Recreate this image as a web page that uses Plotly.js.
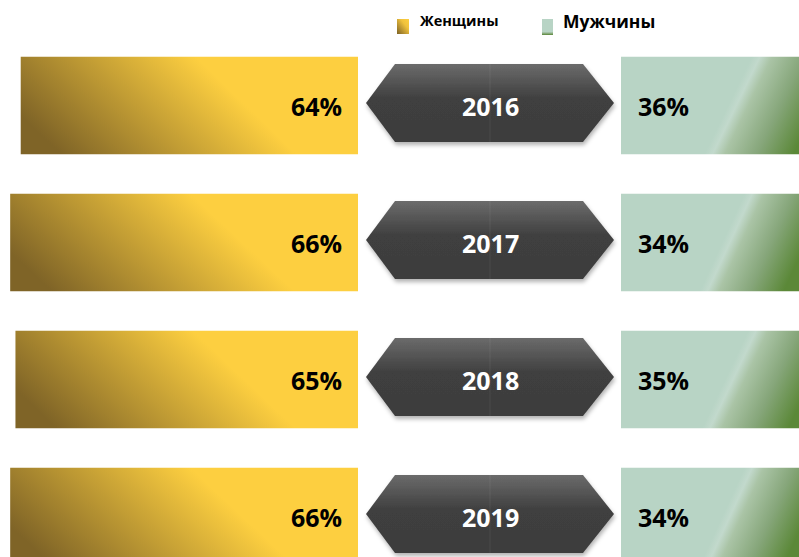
<!DOCTYPE html>
<html>
<head>
<meta charset="utf-8">
<script src="https://cdn.plot.ly/plotly-3.0.1.min.js"></script>
<style>html,body{margin:0;padding:0;background:#fff;}#chart{width:799px;height:557px;}</style>
</head>
<body>
<div id="chart"></div>
<script>
const years = ['2016', '2017', '2018', '2019'];
const women = [64, 66, 65, 66];
const men = [36, 34, 35, 34];
const legendNames = ['Женщины', 'Мужчины'];

const W = 799, H = 557;
const idx = years.map((_, i) => i);
const FONT = 'Open Sans, Noto Sans, DejaVu Sans, sans-serif';

const traces = [
  {type: 'bar', orientation: 'h', y: idx, x: women, xaxis: 'x', yaxis: 'y', width: 0.712,
   marker: {color: '#FDCF40', line: {width: 0}}, hoverinfo: 'none', showlegend: false, name: legendNames[0]},
  {type: 'bar', orientation: 'h', y: idx, x: men, xaxis: 'x2', yaxis: 'y', width: 0.712,
   marker: {color: '#B8D4C5', line: {width: 0}}, hoverinfo: 'none', showlegend: false, name: legendNames[1]}
];

// hexagon geometry (paper x, y offsets in axis units relative to category index)
const hx = [366 / W, 395 / W, 583 / W, 614 / W];
const hcx = 490 / W;
const shapes = [];
const annotations = [];
idx.forEach(i => {
  const yc = i - 0.018, yt = i - 0.303, yb = i + 0.266;
  shapes.push({type: 'path', xref: 'paper', yref: 'y', layer: 'above',
    path: `M ${hx[0]},${yc} L ${hx[1]},${yt} L ${hx[2]},${yt} L ${hx[3]},${yc} L ${hx[2]},${yb} L ${hx[1]},${yb} Z`,
    fillcolor: '#3f3f3f', line: {width: 0}});
});
idx.forEach(i => {
  shapes.push({type: 'line', xref: 'paper', yref: 'y', layer: 'above',
    x0: hcx, x1: hcx, y0: i - 0.303, y1: i + 0.266, line: {color: 'rgba(255,255,255,0.07)', width: 1}});
});
// legend swatches
shapes.push({type: 'rect', xref: 'paper', yref: 'paper', x0: 397 / W, x1: 409 / W, y0: 1 - 34 / H, y1: 1 - 19 / H,
  fillcolor: '#FDCF40', line: {width: 0}});
shapes.push({type: 'rect', xref: 'paper', yref: 'paper', x0: 542 / W, x1: 553 / W, y0: 1 - 35 / H, y1: 1 - 19 / H,
  fillcolor: '#B8D4C5', line: {width: 0}});

idx.forEach(i => {
  annotations.push({xref: 'x', yref: 'y', x: 0, y: i, xanchor: 'right', yanchor: 'middle', xshift: -14,
    text: women[i] + '%', showarrow: false, font: {family: FONT, size: 25, color: '#000', weight: 'bold'}});
  annotations.push({xref: 'x2', yref: 'y', x: 0, y: i, xanchor: 'left', yanchor: 'middle', xshift: 15,
    text: men[i] + '%', showarrow: false, font: {family: FONT, size: 25, color: '#000', weight: 'bold'}});
  annotations.push({xref: 'paper', yref: 'y', x: hcx, y: i, xanchor: 'center', yanchor: 'middle',
    text: years[i], showarrow: false, font: {family: FONT, size: 25, color: '#fff', weight: 'bold'}});
});
annotations.push({xref: 'paper', yref: 'paper', x: 418 / W, y: 1 - 20 / H, xanchor: 'left', yanchor: 'middle',
  text: legendNames[0], showarrow: false, font: {family: FONT, size: 14.5, color: '#000', weight: 'bold'}});
annotations.push({xref: 'paper', yref: 'paper', x: 561 / W, y: 1 - 21 / H, xanchor: 'left', yanchor: 'middle',
  text: legendNames[1], showarrow: false, font: {family: FONT, size: 17.5, color: '#000', weight: 'bold'}});

const layout = {
  width: W, height: H,
  margin: {l: 0, r: 0, t: 0, b: 0, pad: 0},
  paper_bgcolor: '#fff', plot_bgcolor: 'rgba(0,0,0,0)',
  barmode: 'overlay',
  showlegend: false,
  xaxis: {domain: [0, 358 / W], range: [358 / 5.27, 0], visible: false, fixedrange: true},
  xaxis2: {domain: [621 / W, 1], range: [0, 178 / 5.27], visible: false, anchor: 'y', fixedrange: true},
  yaxis: {range: [(H - 105.5) / 137, -105.5 / 137], visible: false, fixedrange: true},
  shapes: shapes,
  annotations: annotations
};

Plotly.newPlot('chart', traces, layout, {staticPlot: true, displayModeBar: false}).then(gd => {
  const svg = gd.querySelector('svg.main-svg');
  const NS = 'http://www.w3.org/2000/svg';
  let defs = svg.querySelector('defs');
  if (!defs) { defs = document.createElementNS(NS, 'defs'); svg.insertBefore(defs, svg.firstChild); }
  function grad(id, x1, y1, x2, y2, stops) {
    const g = document.createElementNS(NS, 'linearGradient');
    g.setAttribute('id', id);
    g.setAttribute('x1', x1); g.setAttribute('y1', y1); g.setAttribute('x2', x2); g.setAttribute('y2', y2);
    stops.forEach(s => {
      const st = document.createElementNS(NS, 'stop');
      st.setAttribute('offset', s[0]); st.setAttribute('stop-color', s[1]);
      g.appendChild(st);
    });
    defs.appendChild(g);
  }
  grad('gYellow', 0, 0.6, 1, 0.3, [[0, '#7f6427'], [0.64, '#FDCF40'], [1, '#FDCF40']]);
  grad('gGreen', 0, 0.38, 1, 0.63, [[0, '#B8D4C5'], [0.56, '#B8D4C5'], [0.6, '#c2d9cc'], [0.66, '#aac4a6'], [0.82, '#86a67a'], [1, '#5b8838']]);
  grad('gHex', 0, 0, 0, 1, [[0, '#6b6b6b'], [0.45, '#3f3f3f'], [1, '#3d3d3d']]);
  grad('gSwY', 1, 0, 0, 1, [[0, '#FDCF40'], [0.35, '#f0c23c'], [1, '#7d6226']]);
  grad('gSwG', 0, 0, 0, 1, [[0, '#B8D4C5'], [0.8, '#B8D4C5'], [1, '#5a8537']]);
  const f = document.createElementNS(NS, 'filter');
  f.setAttribute('id', 'hexShadow');
  f.setAttribute('x', '-10%'); f.setAttribute('y', '-10%'); f.setAttribute('width', '125%'); f.setAttribute('height', '135%');
  const ds = document.createElementNS(NS, 'feDropShadow');
  ds.setAttribute('dx', 1); ds.setAttribute('dy', 3); ds.setAttribute('stdDeviation', 2);
  ds.setAttribute('flood-color', '#000'); ds.setAttribute('flood-opacity', 0.3);
  f.appendChild(ds); defs.appendChild(f);

  const barTraces = gd.querySelectorAll('.barlayer .trace');
  barTraces.forEach((t, ti) => {
    t.querySelectorAll('.point path').forEach(p => { p.style.fill = ti === 0 ? 'url(#gYellow)' : 'url(#gGreen)'; });
  });
  gd.querySelectorAll('.shapelayer path').forEach(p => {
    const k = +p.getAttribute('data-index');
    if (k < 4) { p.style.fill = 'url(#gHex)'; p.setAttribute('filter', 'url(#hexShadow)'); }
    else if (k === 8) p.style.fill = 'url(#gSwY)';
    else if (k === 9) p.style.fill = 'url(#gSwG)';
  });
});
</script>
</body>
</html>
